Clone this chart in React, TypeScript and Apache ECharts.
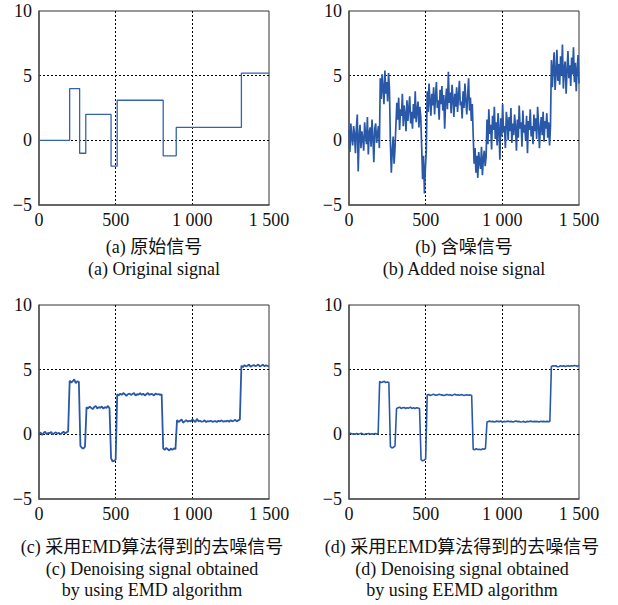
import React, { useEffect, useRef } from "react";
import * as echarts from "echarts";

// ---- Data ----
const stepBreaks = [0, 200, 265, 305, 470, 510, 810, 895, 1320, 1500];
const stepLevels = [0, 4, -1, 2, -2, 3.1, -1.2, 1, 5.2, 5.2];

// noisy signal, one sample every 6 points
const noisyStep = 6;
const noisySignal = [
  0.8, -0.9, 1.3, 0.2, -0.4, 1.1, 0.5, -1.0, 0.9, 2.0, -2.4, 0.3, 1.2, -0.6, 0.7, 0.1, -0.8, 1.4, 0.4, -0.3,
  1.8, -1.1, 0.6, 1.0, -0.5, 1.6, 0.2, -1.7, 0.9, 1.3, -0.2, 0.5, 1.1, -0.6,
  4.8, 3.2, 5.1, 4.0, 2.8, 5.4, 3.6, 4.5, 3.0, 5.2, 3.9,
  -0.2, -2.5, -0.8, 0.3, -1.8, -0.6,
  1.2, 2.9, 1.6, 3.3, 0.8, 2.4, 1.9, 3.6, 1.1, 2.7, 2.0, 0.7, 3.1, 1.5, 2.5, 3.4, 1.3, 2.2, 0.9, 2.8,
  1.7, 3.8, 1.4, 2.3, 3.0, 1.0, 2.6, 1.8,
  -0.5, -3.0, -1.2, -4.1, -2.2, -0.8,
  3.8, 2.2, 4.4, 3.0, 1.9, 3.6, 2.7, 4.1, 2.0, 3.3, 4.5, 2.5, 3.1, 1.6, 3.9, 2.8, 4.2, 2.3, 3.5, 0.9,
  3.0, 4.0, 2.4, 5.3, 2.9, 3.7, 2.1, 4.3, 3.2, 1.8, 3.6, 2.6, 4.1, 2.2, 3.4, 4.6, 2.7, 3.0, 1.7, 3.8,
  2.5, 4.4, 3.1, 2.0, 3.5, 4.8, 2.3, 3.3, 1.5, 2.8,
  0.4, -1.8, -0.6, -2.5, -1.2, -2.9, -0.9, -1.7, -2.2, -0.5, -2.7, -1.4, -0.8, -2.0, -1.3,
  1.6, -0.3, 2.4, 0.5, 1.2, -0.7, 1.9, 0.8, 2.6, 0.1, 1.4, -0.4, 2.1, 0.9, -1.5, 1.7, 0.3, 2.8, 0.6, 1.1,
  -0.6, 2.2, 1.5, 0.0, 1.8, 0.7, 2.5, -0.2, 1.3, 0.4, 2.0, 1.0, -0.8, 1.6, 0.2, 2.7, 0.9, 1.4, -0.5, 2.3,
  0.6, 1.2, 0.0, 1.9, -1.0, 1.5, 0.8, 2.4, 0.3, 1.1, -0.3, 2.0, 0.7, 1.7, 0.1, 2.6, 1.3, -0.6, 1.0, 1.8,
  0.4, 2.2, -0.1, 1.5, 0.9, 2.1, 0.2, 1.4, -0.4, 1.1,
  6.2, 4.1, 5.7, 6.8, 3.9, 5.2, 7.0, 4.6, 5.9, 4.3, 6.5, 5.0, 7.4, 4.0, 5.6, 6.1, 3.6, 5.4, 6.9, 4.8,
  5.8, 4.2, 6.4, 5.1, 7.2, 4.5, 6.0, 3.8, 5.5, 6.6, 4.4,
];

// denoised signals, one sample every 10 points
const denoisedStep = 10;
const emdSignal = [
  0.05, 0.15, -0.05, 0.1, 0.2, 0.0, 0.12, 0.08, 0.18, -0.02, 0.1, 0.15, 0.05, 0.12, 0.0, 0.1, 0.2, 0.08, 0.15, 0.22,
  4.15, 4.0, 4.1, 4.25, 3.95, 4.1, 4.05,
  -0.9, -1.05, -1.1, -0.95,
  2.1, 2.0, 2.15, 2.05, 1.95, 2.1, 2.2, 2.0, 2.1, 2.05, 2.15, 1.98, 2.1, 2.05, 2.2, 2.0,
  -1.85, -2.1, -2.05, -1.95,
  3.1, 3.0, 3.15, 3.05, 3.2, 3.1, 2.98, 3.1, 3.15, 3.05, 3.12, 3.2, 3.0, 3.1, 3.08, 3.18, 3.05, 3.15, 3.0, 3.1,
  3.2, 3.05, 3.12, 3.1, 3.0, 3.15, 3.08, 3.12, 3.05, 3.1,
  -1.1, -1.2, -1.05, -1.15, -1.25, -1.1, -1.2, -1.08, -1.15,
  1.1, 0.95, 1.05, 1.15, 0.9, 1.0, 1.1, 0.98, 1.05, 1.0, 1.15, 1.05, 0.95, 1.2, 1.0, 1.05, 0.98, 1.0, 1.08, 0.95,
  1.02, 1.0, 1.05, 0.97, 1.0, 1.03, 0.96, 1.05, 1.0, 1.08, 0.98, 1.02, 1.0, 1.06, 0.97, 1.1, 1.0, 1.05, 1.12, 1.0,
  1.08, 1.15,
  5.3, 5.2, 5.35, 5.25, 5.3, 5.4, 5.22, 5.3, 5.35, 5.28, 5.32, 5.4, 5.25, 5.3, 5.38, 5.27, 5.33, 5.3, 5.25,
];
const eemdSignal = [
  0.05, 0.08, 0.02, 0.05, 0.0, 0.06, 0.03, 0.05, 0.08, 0.02, -0.02, 0.05, 0.04, 0.06, 0.0, 0.05, 0.03, 0.06, 0.02, 0.05,
  4.1, 4.0, 4.05, 4.1, 4.0, 4.05, 4.0,
  -0.95, -1.05, -1.0, -0.9,
  2.0, 2.05, 2.1, 2.0, 2.05, 2.08, 2.0, 2.05, 2.02, 2.1, 2.0, 2.05, 2.0, 2.06, 2.03, 2.0,
  -1.95, -2.05, -2.0, -1.9,
  3.05, 3.08, 3.0, 3.05, 3.1, 3.05, 3.02, 3.06, 3.1, 3.05, 3.03, 3.0, 3.05, 3.08, 3.04, 3.06, 3.0, 3.05, 3.1, 3.04,
  3.05, 3.02, 3.07, 3.05, 3.0, 3.04, 3.06, 3.02, 3.05, 3.0,
  -1.15, -1.2, -1.1, -1.18, -1.15, -1.2, -1.12, -1.16, -1.1,
  0.95, 1.0, 1.02, 0.98, 1.0, 0.95, 1.02, 1.0, 0.98, 1.03, 0.95, 1.0, 0.97, 1.0, 1.02, 0.98, 1.0, 0.96, 1.0, 1.03,
  0.98, 1.0, 0.95, 0.97, 1.0, 0.92, 1.0, 0.98, 1.02, 1.0, 0.97, 1.0, 0.98, 1.0, 0.96, 1.02, 0.98, 1.0, 0.97, 1.0,
  0.98, 1.0,
  5.25, 5.3, 5.28, 5.3, 5.22, 5.25, 5.3, 5.27, 5.3, 5.25, 5.28, 5.3, 5.26, 5.3, 5.28, 5.32, 5.3, 5.25, 5.35,
];

const xTickLabels: Record<number, string> = { 0: "0", 500: "500", 1000: "1 000", 1500: "1 500" };
const yTickLabels: Record<string, string> = { "-5": "\u22125", "0": "0", "5": "5", "10": "10" };

const captions = [
  ["(a) 原始信号", "(a) Original signal"],
  ["(b) 含噪信号", "(b) Added noise signal"],
  ["(c) 采用EMD算法得到的去噪信号", "(c) Denoising signal obtained", "by using EMD algorithm"],
  ["(d) 采用EEMD算法得到的去噪信号", "(d) Denoising signal obtained", "by using EEMD algorithm"],
];

const FONT = "'Liberation Serif', 'Times New Roman', 'Noto Sans CJK SC', serif";
const BLUE = "#2a58a8";

export default function App() {
  const ref = useRef<HTMLDivElement>(null);
  useEffect(() => {
    if (!ref.current) return;
    const chart = echarts.init(ref.current, null, { renderer: "svg" });

    const grids = [
      { left: 39, top: 11, width: 230, height: 194 },
      { left: 349, top: 11, width: 230, height: 194 },
      { left: 39, top: 305, width: 230, height: 194 },
      { left: 349, top: 305, width: 230, height: 194 },
    ];

    const split = { show: true, showMinLine: false, showMaxLine: false, lineStyle: { color: "#000", type: [2, 2], width: 1 } };
    const axisLine = { show: true, onZero: false, lineStyle: { color: "#555", width: 1.5 } };

    const xAxes = grids.map((_, i) => ({
      type: "value",
      gridIndex: i,
      min: 0,
      max: 1500,
      interval: 500,
      axisLine,
      axisTick: { show: false },
      splitLine: split,
      axisLabel: {
        margin: 6,
        fontFamily: FONT,
        fontSize: 18,
        color: "#111",
        formatter: (v: number) => xTickLabels[v] ?? String(v),
      },
    }));
    const yAxes = grids.map((_, i) => ({
      type: "value",
      gridIndex: i,
      min: -5,
      max: 10,
      interval: 5,
      axisLine,
      axisTick: { show: false },
      splitLine: split,
      axisLabel: {
        margin: 7,
        fontFamily: FONT,
        fontSize: 18,
        color: "#111",
        formatter: (v: number) => yTickLabels[String(v)] ?? String(v),
      },
    }));

    const stepData = stepBreaks.map((x, i) => [x, stepLevels[i]]);
    const noisyData = noisySignal.map((v, i) => [Math.min(i * noisyStep, 1500), v]);
    const emdData = emdSignal.map((v, i) => [i * denoisedStep, v]);
    const eemdData = eemdSignal.map((v, i) => [i * denoisedStep, v]);

    const base = { type: "line", showSymbol: false, symbol: "none", silent: true };
    const series = [
      { ...base, xAxisIndex: 0, yAxisIndex: 0, step: "end", data: stepData, lineStyle: { color: "#3462b0", width: 1.3 } },
      { ...base, xAxisIndex: 1, yAxisIndex: 1, data: noisyData, lineStyle: { color: BLUE, width: 1.7 } },
      { ...base, xAxisIndex: 2, yAxisIndex: 2, data: emdData, lineStyle: { color: BLUE, width: 1.8 } },
      { ...base, xAxisIndex: 3, yAxisIndex: 3, data: eemdData, lineStyle: { color: BLUE, width: 1.6 } },
    ];

    const captionTops = [247, 247, 547, 547];
    const graphic: any[] = [];
    captions.forEach((lines, i) => {
      const g = grids[i];
      const cx = g.left + g.width / 2 - (i >= 2 ? 2 : 0);
      lines.forEach((t, j) => {
        graphic.push({
          type: "text",
          x: cx,
          y: captionTops[i] + j * 21.5,
          style: {
            text: t,
            fontFamily: FONT,
            fontSize: 18,
            fill: "#111",
            textAlign: "center",
            textVerticalAlign: "middle",
          },
        });
      });
    });

    chart.setOption({
      animation: false,
      backgroundColor: "#fff",
      grid: grids.map((g) => ({ ...g, show: true, borderColor: "#333", borderWidth: 1, backgroundColor: "transparent" })),
      xAxis: xAxes,
      yAxis: yAxes,
      series,
      graphic,
    } as any);
    return () => chart.dispose();
  }, []);
  return <div ref={ref} style={{ position: "fixed", left: 0, top: 0, width: 618, height: 605, background: "#fff" }} />;
}
